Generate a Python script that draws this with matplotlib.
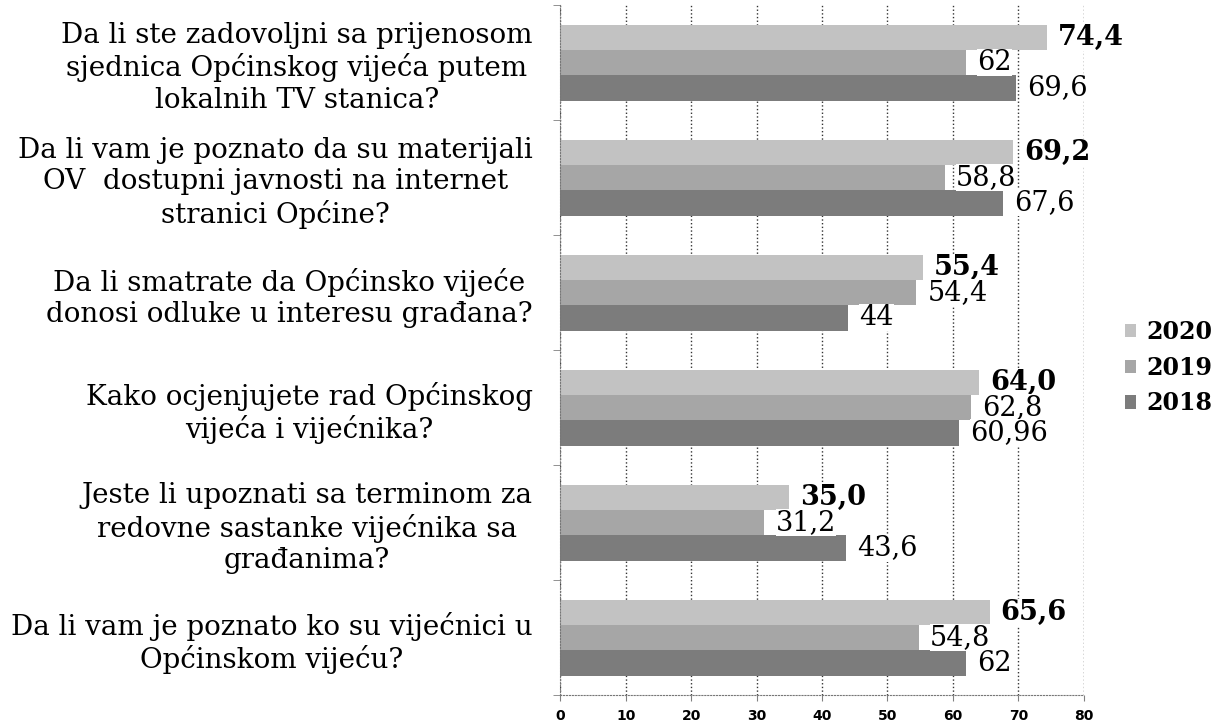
import matplotlib.pyplot as plt
import numpy as np

questions = [
    'Da li ste zadovoljni sa prijenosom\nsjednica Općinskog vijeća putem\nlokalnih TV stanica?',
    'Da li vam je poznato da su materijali\nOV  dostupni javnosti na internet\nstranici Općine?',
    'Da li smatrate da Općinsko vijeće\ndonosi odluke u interesu građana?',
    'Kako ocjenjujete rad Općinskog\nvijeća i vijećnika?',
    'Jeste li upoznati sa terminom za\nredovne sastanke vijećnika sa\ngrađanima?',
    'Da li vam je poznato ko su vijećnici u\nOpćinskom vijeću?',
]
v2020 = [74.4, 69.2, 55.4, 64.0, 35.0, 65.6]
v2019 = [62, 58.8, 54.4, 62.8, 31.2, 54.8]
v2018 = [69.6, 67.6, 44, 60.96, 43.6, 62]
lab2020 = ['74,4', '69,2', '55,4', '64,0', '35,0', '65,6']
lab2019 = ['62', '58,8', '54,4', '62,8', '31,2', '54,8']
lab2018 = ['69,6', '67,6', '44', '60,96', '43,6', '62']
years = ['2020', '2019', '2018']

plt.rcParams['font.family'] = ['DejaVu Serif']

fig = plt.figure(figsize=(12.26, 7.28), dpi=100)
ax = fig.add_axes([0.457, 0.045, 0.427, 0.948])

y = np.arange(len(questions))
h = 0.22
series = [(v2020, lab2020, '#c2c2c2', -h, 'bold'),
          (v2019, lab2019, '#a6a6a6', 0, 'normal'),
          (v2018, lab2018, '#7c7c7c', h, 'normal')]
for (vals, labs, col, off, w), yr in zip(series, years):
    ax.barh(y + off, vals, height=h, color=col, label=yr, zorder=2)
    for yi, v, t in zip(y + off, vals, labs):
        ax.annotate(t, (v, yi), xytext=(8, 0), textcoords='offset points',
                    va='center', ha='left', fontsize=19.5, fontweight=w, zorder=3,
                    bbox=dict(facecolor='white', edgecolor='none', pad=0))

ax.set_xlim(0, 80)
ax.set_ylim(len(questions) - 0.5, -0.5)
ax.set_xticks(range(0, 81, 10))
ax.set_xticklabels([str(t) for t in range(0, 81, 10)], fontsize=10,
                   fontweight='bold', family='DejaVu Sans')
ax.set_yticks(y)
ax.set_yticklabels(questions, fontsize=20, ha='right', ma='center')
ax.tick_params(axis='y', length=0, pad=20)
ax.tick_params(axis='x', length=4, color='gray', pad=6)
ax.set_yticks(np.arange(-0.5, len(questions), 1), minor=True)
ax.tick_params(axis='y', which='minor', length=5, color='gray')
ax.grid(axis='x', linestyle=':', color='#333333', linewidth=1, zorder=0)
for s in ['top', 'right']:
    ax.spines[s].set_visible(False)
ax.spines['left'].set_linestyle(':')
ax.spines['left'].set_color('#777777')
ax.spines['bottom'].set_linestyle(':')
ax.spines['bottom'].set_color('#777777')

leg = fig.legend(loc='center left', bbox_to_anchor=(0.9, 0.495), frameon=False,
                 prop={'size': 17, 'weight': 'bold'}, handlelength=0.5,
                 handleheight=0.5, handletextpad=0.4, labelspacing=0.5)

fig.savefig('out.png', dpi=100)
